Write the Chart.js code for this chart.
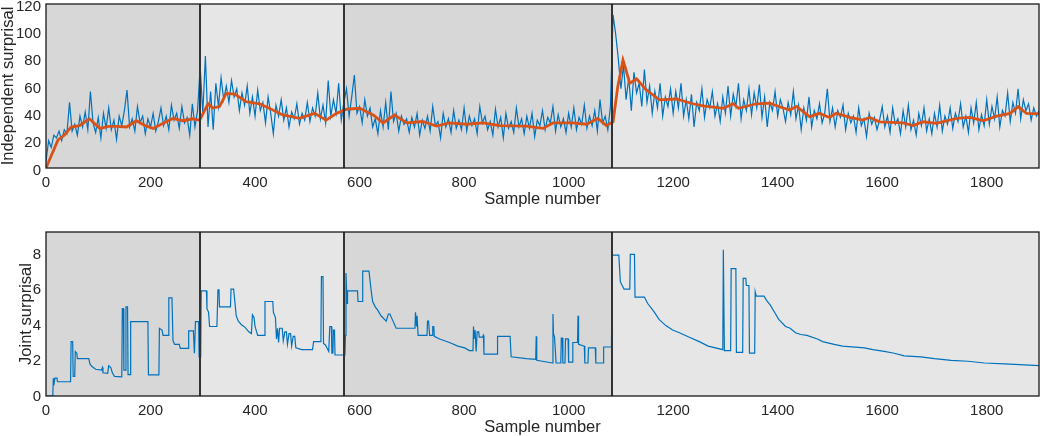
<!DOCTYPE html>
<html>
<head>
<meta charset="utf-8">
<script src="https://cdn.jsdelivr.net/npm/chart.js@4/dist/chart.umd.min.js"></script>
<style>
  html, body { margin: 0; padding: 0; background: #fff; overflow: hidden; width: 1047px; height: 436px; }
  #topChart { position: absolute; left: 0; top: 0; }
  #bottomChart { position: absolute; left: 0; top: 224px; }
</style>
</head>
<body>
<canvas id="topChart" width="1047" height="212"></canvas>
<canvas id="bottomChart" width="1047" height="216"></canvas>
<script>
// --- data ---

// phase boundaries (sample numbers) where the shading changes
const phaseBounds = [0, 295, 571, 1083, 1900]

const sampleTicks = [0, 200, 400, 600, 800, 1000, 1200, 1400, 1600, 1800]
const independentTicks = [0, 20, 40, 60, 80, 100, 120]
const jointTicks = [0, 2, 4, 6, 8]

// raw independent surprisal, one value every 5 samples
const sampleStep = 5
const independentSurprisal = [
  5, 20, 15, 24, 22, 27, 20, 28, 25, 48, 27, 32, 24, 38, 30, 41, 28, 56, 33, 26,
  37, 22, 40, 29, 44, 28, 35, 21, 38, 31, 42, 57, 30, 36, 27, 45, 33, 38, 25, 36,
  30, 40, 27, 34, 44, 31, 38, 28, 46, 35, 40, 29, 45, 33, 37, 24, 47, 30, 42, 74,
  40, 82, 30, 56, 28, 62, 45, 66, 50, 60, 48, 64, 52, 58, 42, 55, 46, 60, 40, 52,
  38, 57, 42, 48, 33, 52, 40, 25, 46, 38, 50, 35, 44, 30, 41, 36, 47, 32, 40, 35,
  48, 34, 44, 38, 55, 36, 46, 33, 64, 38, 50, 40, 62, 35, 48, 58, 38, 52, 68, 40,
  45, 33, 50, 38, 44, 30, 36, 25, 42, 30, 48, 28, 56, 34, 40, 27, 38, 32, 36, 26,
  37, 30, 40, 24, 35, 29, 38, 27, 45, 31, 34, 22, 40, 30, 36, 26, 42, 29, 35, 28,
  44, 27, 38, 31, 36, 25, 45, 33, 38, 28, 34, 24, 43, 30, 37, 22, 40, 29, 34, 26,
  44, 30, 36, 25, 38, 29, 40, 23, 35, 31, 42, 28, 37, 33, 45, 27, 39, 30, 36, 26,
  40, 30, 44, 28, 37, 32, 46, 29, 38, 31, 42, 27, 50, 33, 38, 28, 45, 112, 98, 80,
  58, 75, 50, 66, 42, 70, 55, 62, 45, 72, 48, 60, 40, 56, 44, 62, 38, 52, 45, 58,
  40, 56, 44, 62, 38, 50, 36, 54, 30, 48, 42, 58, 37, 50, 44, 56, 38, 47, 34, 52,
  40, 60, 38, 54, 45, 62, 36, 50, 42, 58, 39, 55, 44, 61, 37, 52, 30, 48, 42, 56,
  38, 50, 44, 34, 48, 39, 56, 36, 46, 28, 44, 35, 52, 30, 42, 36, 47, 33, 40, 58,
  34, 44, 30, 42, 37, 46, 28, 40, 33, 38, 26, 44, 31, 36, 23, 40, 32, 37, 28, 35,
  45, 30, 38, 26, 44, 32, 36, 25, 42, 30, 46, 28, 35, 24, 40, 31, 44, 27, 36, 25,
  40, 30, 46, 27, 38, 32, 44, 29, 40, 34, 47, 30, 38, 26, 44, 33, 48, 28, 39, 31,
  50, 32, 45, 36, 52, 30, 42, 38, 55, 34, 48, 40, 58, 36, 50, 42, 47, 35, 44, 38,
  42
]

// smoothed trend [sample, value]
const independentTrend = [
  [0, 0], [10, 9], [23, 20.5], [35, 24], [48, 30], [64, 31], [83, 36], [103, 29],
  [120, 30.5], [135, 30.5], [154, 30], [173, 34.6], [190, 31], [205, 29], [225, 33],
  [243, 36.3], [262, 34.6], [281, 36], [294, 35], [310, 47], [319, 44], [332, 45],
  [345, 54.6], [361, 54], [383, 48.5], [409, 47], [434, 42.4], [453, 38.8], [485, 36.3],
  [514, 40], [536, 35], [556, 40], [575, 43], [600, 43.7], [626, 38.8], [645, 33],
  [667, 38.8], [690, 33], [721, 34], [747, 30.7], [772, 33], [804, 32], [836, 33],
  [868, 31], [919, 30.7], [951, 29], [970, 33], [1008, 33], [1034, 32], [1056, 36.3],
  [1072, 31], [1085, 33.8], [1094, 59.5], [1104, 79], [1108, 74], [1117, 62],
  [1130, 65.3], [1149, 57], [1174, 49.8], [1206, 50.5], [1238, 47], [1257, 45.4],
  [1296, 43.7], [1315, 47], [1325, 43.7], [1359, 47], [1385, 47.5], [1402, 45],
  [1423, 42.4], [1436, 45], [1461, 37.6], [1480, 40], [1499, 37], [1512, 40],
  [1538, 37], [1563, 35], [1576, 37], [1595, 33.8], [1640, 33], [1659, 31],
  [1678, 33.8], [1704, 32.6], [1742, 36.3], [1768, 37], [1793, 34.6], [1819, 38],
  [1845, 40], [1860, 44.9], [1876, 40], [1900, 39.6]
]

// joint surprisal [sample, value]
const jointSurprisal = [
  [0, 0], [13, 0], [14, 1.0], [15, 0.6], [17, 1.0], [21, 1.0], [22, 0.8], [47, 0.8],
  [48, 3.05], [51, 3.05], [52, 1.1], [55, 1.1], [56, 2.5], [59, 2.4], [60, 2.1], [82, 2.1],
  [84, 1.8], [88, 1.65], [95, 1.5], [106, 1.45], [108, 1.6], [109, 1.3], [118, 1.27],
  [120, 1.7], [124, 1.6], [127, 1.3], [131, 1.1], [145, 1.08], [146, 4.9], [148, 4.9],
  [149, 1.45], [152, 1.45], [153, 5.0], [156, 5.0], [157, 1.2], [161, 1.2], [162, 4.17],
  [195, 4.17], [196, 1.18], [216, 1.18], [217, 3.8], [222, 3.7], [224, 3.4], [234, 3.4],
  [235, 5.5], [241, 5.5], [243, 3.1], [246, 2.9], [255, 2.9], [257, 2.67], [272, 2.67],
  [273, 3.65], [282, 3.65], [284, 2.4], [286, 4.17], [292, 4.17], [293, 2.2], [296, 2.2],
  [297, 5.9], [307, 5.9], [308, 4.9], [311, 4.7], [313, 3.9], [327, 3.9], [329, 5.95],
  [331, 5.95], [332, 5.0], [353, 5.0], [354, 6.0], [359, 6.0], [362, 5.1], [364, 4.5],
  [368, 4.2], [374, 4.0], [381, 3.85], [388, 3.6], [393, 3.5], [395, 4.55], [398, 4.4],
  [400, 3.9], [403, 3.6], [405, 3.4], [418, 3.4], [419, 5.3], [434, 5.3], [435, 4.7],
  [439, 4.4], [441, 3.2], [443, 3.8], [445, 3.0], [447, 3.8], [452, 3.8], [454, 3.1],
  [457, 3.6], [460, 3.6], [462, 2.9], [465, 3.5], [468, 3.5], [470, 2.8], [473, 3.35],
  [476, 3.35], [478, 2.7], [489, 2.6], [510, 2.6], [512, 3.05], [526, 3.05], [527, 6.7],
  [530, 6.7], [531, 2.95], [535, 2.85], [541, 2.5], [543, 3.9], [546, 3.9], [547, 2.4],
  [549, 2.4], [550, 3.7], [552, 3.7], [553, 2.3], [572, 2.3], [573, 3.4], [574, 6.9],
  [576, 5.2], [577, 5.9], [596, 5.9], [597, 5.3], [605, 5.3], [606, 7.0], [618, 7.0],
  [622, 5.95], [625, 5.3], [630, 5.0], [635, 4.8], [641, 4.5], [651, 4.2], [655, 4.6],
  [658, 4.6], [664, 4.2], [670, 3.8], [706, 3.8], [707, 4.7], [709, 3.9], [710, 4.5],
  [712, 3.4], [729, 3.4], [730, 4.2], [732, 4.2], [734, 3.4], [739, 3.4], [740, 3.9],
  [742, 3.9], [743, 3.35], [753, 3.2], [772, 3.0], [788, 2.8], [801, 2.7], [810, 2.55],
  [817, 2.55], [818, 3.9], [819, 3.2], [821, 3.7], [823, 2.5], [825, 3.6], [828, 3.6],
  [829, 3.3], [835, 3.3], [837, 3.4], [838, 2.35], [863, 2.35], [864, 3.35], [888, 3.35],
  [890, 2.2], [919, 2.1], [937, 2.05], [938, 3.35], [939, 2.0], [969, 1.85], [970, 4.6],
  [971, 3.5], [973, 3.3], [976, 1.85], [985, 1.85], [986, 3.25], [988, 3.25], [989, 1.85],
  [993, 1.85], [994, 3.2], [999, 3.2], [1000, 1.9], [1007, 1.9], [1008, 3.0], [1017, 3.0],
  [1018, 4.5], [1019, 2.9], [1030, 2.8], [1031, 1.85], [1037, 1.85], [1038, 2.7],
  [1051, 2.7], [1052, 1.85], [1066, 1.85], [1067, 2.75], [1082, 2.75], [1083, 7.9],
  [1096, 7.9], [1099, 6.4], [1106, 6.0], [1117, 6.0], [1118, 7.95], [1126, 7.95],
  [1127, 5.55], [1145, 5.55], [1151, 5.2], [1164, 4.7], [1173, 4.3], [1186, 3.95],
  [1199, 3.7], [1212, 3.55], [1231, 3.3], [1250, 3.05], [1267, 2.8], [1295, 2.6],
  [1296, 8.2], [1298, 2.55], [1310, 2.55], [1311, 7.15], [1320, 7.15], [1321, 2.45],
  [1333, 2.45], [1334, 6.6], [1339, 6.6], [1340, 6.2], [1345, 6.2], [1346, 2.4],
  [1356, 2.4], [1357, 5.85], [1359, 5.6], [1374, 5.6], [1379, 5.35], [1386, 5.1],
  [1392, 4.8], [1402, 4.3], [1415, 3.9], [1424, 3.8], [1434, 3.55], [1444, 3.45],
  [1456, 3.4], [1476, 3.2], [1486, 3.05], [1508, 2.9], [1524, 2.8], [1566, 2.7],
  [1582, 2.6], [1604, 2.5], [1623, 2.4], [1642, 2.25], [1674, 2.2], [1700, 2.1],
  [1732, 2.0], [1764, 1.95], [1796, 1.85], [1834, 1.8], [1872, 1.75], [1900, 1.7]
]

// --- drawing ---

const TEXT = '#262626'
const FONT = "'Liberation Sans', Arial, sans-serif"

// shaded phases + separators + box around the plot area
const phasePlugin = {
  id: 'phases',
  beforeDatasetsDraw(chart) {
    const { ctx, chartArea: a, scales: { x } } = chart
    const shades = ['#d7d7d7', '#e6e6e6']
    ctx.save()
    for (let i = 0; i < phaseBounds.length - 1; i++) {
      const x0 = x.getPixelForValue(phaseBounds[i])
      const x1 = x.getPixelForValue(phaseBounds[i + 1])
      ctx.fillStyle = shades[i % 2]
      ctx.fillRect(x0, a.top, x1 - x0, a.bottom - a.top)
    }
    ctx.restore()
  },
  afterDatasetsDraw(chart) {
    const { ctx, chartArea: a, scales: { x } } = chart
    ctx.save()
    ctx.strokeStyle = '#333'
    ctx.lineWidth = 2
    for (let i = 1; i < phaseBounds.length - 1; i++) {
      const px = Math.round(x.getPixelForValue(phaseBounds[i]))
      ctx.beginPath()
      ctx.moveTo(px, a.top)
      ctx.lineTo(px, a.bottom)
      ctx.stroke()
    }
    ctx.strokeStyle = '#1a1a1a'
    ctx.lineWidth = 1.3
    ctx.strokeRect(a.left, a.top, a.right - a.left, a.bottom - a.top)
    ctx.restore()
  }
}

function makeOptions(yMax, yTicks, yTitle, yTitlePad, padTop, yLabelShift) {
  return {
    responsive: false,
    animation: false,
    events: [],
    layout: { padding: { top: padTop, right: 8, left: 0, bottom: 0 } },
    plugins: { legend: { display: false }, tooltip: { enabled: false } },
    scales: {
      x: {
        type: 'linear',
        min: 0,
        max: 1900,
        afterBuildTicks: s => { s.ticks = sampleTicks.map(v => ({ value: v })) },
        afterFit: s => { s.height = 44; s.paddingLeft = 0; s.paddingRight = 0 },
        grid: { display: false, drawTicks: false },
        border: { display: false },
        ticks: { color: TEXT, font: { family: FONT, size: 15 }, padding: 6, maxRotation: 0, callback: v => String(v) },
        title: {
          display: true, text: 'Sample number', color: TEXT,
          font: { family: FONT, size: 16.5, lineHeight: 1 }, padding: { top: 0, bottom: 4 }
        }
      },
      y: {
        min: 0,
        max: yMax,
        afterBuildTicks: s => { s.ticks = yTicks.map(v => ({ value: v })) },
        afterFit: s => { s.width = 46; s.paddingTop = 0; s.paddingBottom = 0 },
        grid: { display: false, drawTicks: false },
        border: { display: false },
        ticks: { color: TEXT, font: { family: FONT, size: 15 }, padding: 5, labelOffset: yLabelShift, callback: v => String(v) },
        title: {
          display: true, text: yTitle, color: TEXT,
          font: { family: FONT, size: 16.5, lineHeight: 1 }, padding: { top: yTitlePad, bottom: 0 }
        }
      }
    }
  }
}

new Chart(document.getElementById('topChart'), {
  type: 'line',
  data: {
    datasets: [
      {
        data: independentTrend.map(([x, y]) => ({ x, y })),
        borderColor: '#D95319',
        borderWidth: 2.8,
        pointRadius: 0,
        tension: 0
      },
      {
        data: independentSurprisal.map((y, i) => ({ x: i * sampleStep, y })),
        borderColor: '#0072BD',
        borderWidth: 1.2,
        pointRadius: 0,
        tension: 0
      }
    ]
  },
  options: makeOptions(120, independentTicks, 'Independent surprisal', 0, 4, 2.5),
  plugins: [phasePlugin]
})

new Chart(document.getElementById('bottomChart'), {
  type: 'line',
  data: {
    datasets: [{
      data: jointSurprisal.map(([x, y]) => ({ x, y })),
      borderColor: '#0072BD',
      borderWidth: 1.2,
      pointRadius: 0,
      tension: 0
    }]
  },
  options: makeOptions(9.2, jointTicks, 'Joint surprisal', 18, 8, 1),
  plugins: [phasePlugin]
})
</script>
</body>
</html>
